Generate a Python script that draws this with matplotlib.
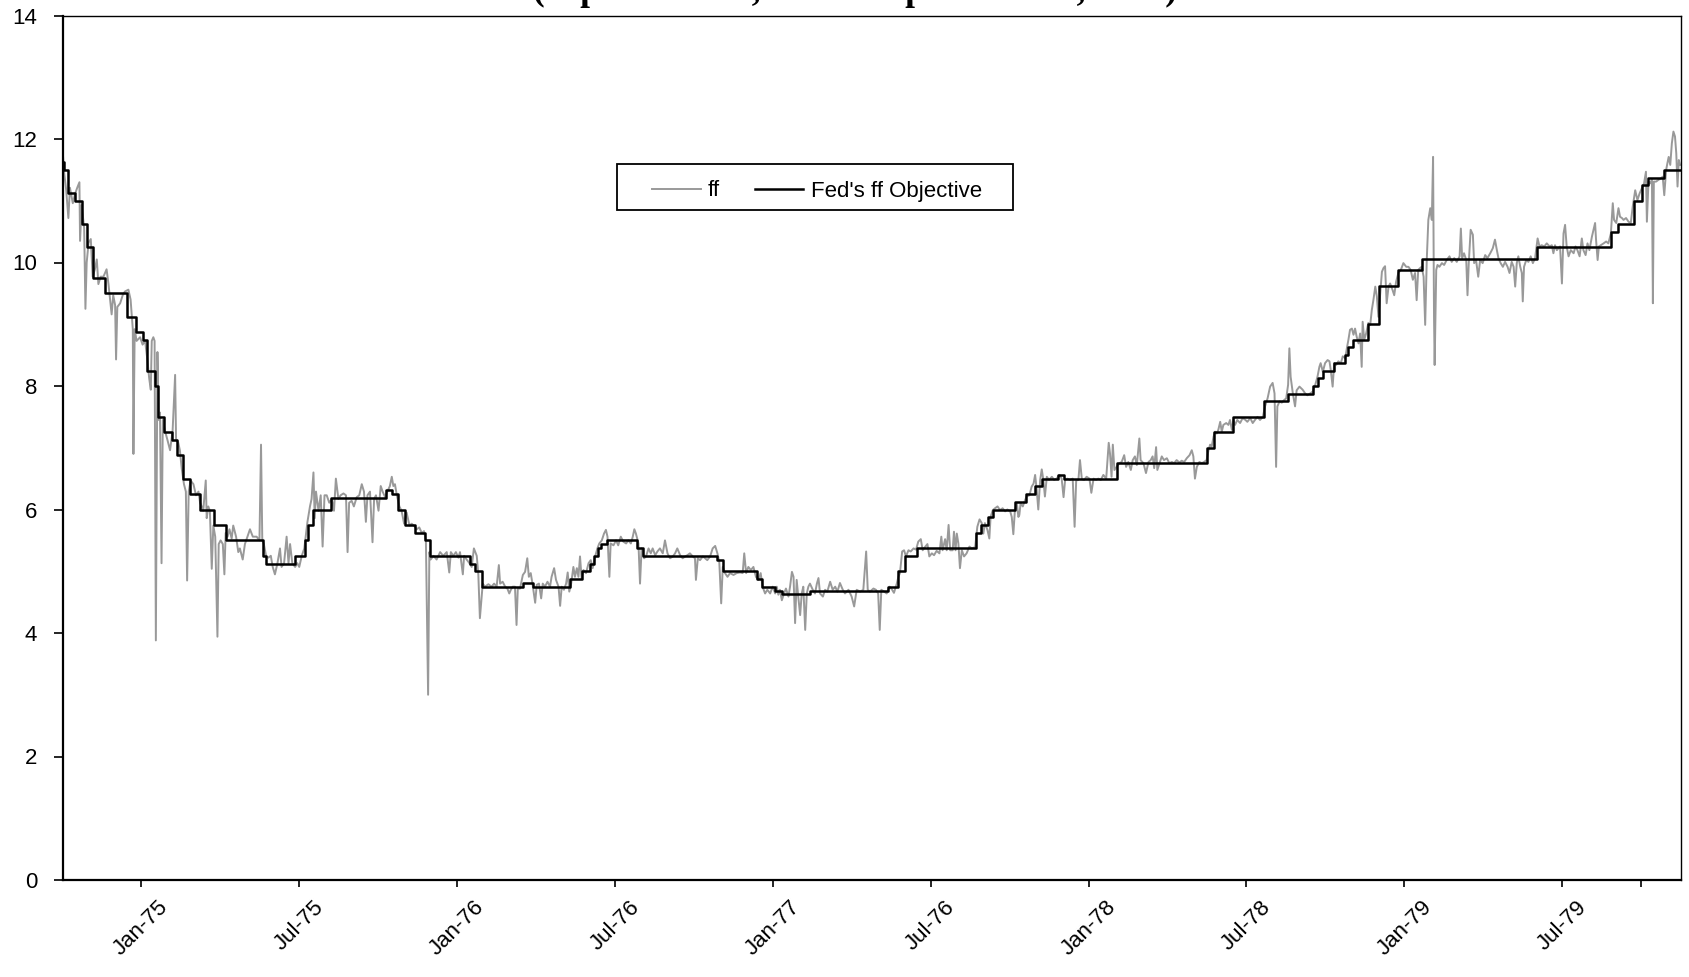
import numpy as np
import matplotlib
matplotlib.use("Agg")
import matplotlib.pyplot as plt
from matplotlib import transforms
from matplotlib.patches import Rectangle

# daily federal funds rate as (decimal year, percent)
ff_1974 = [
    (1974.753, 11.73), (1974.756, 11.48), (1974.763, 11.18), (1974.770, 10.72), (1974.775, 11.21),
    (1974.784, 10.96), (1974.791, 11.11), (1974.798, 11.21), (1974.805, 11.30), (1974.807, 10.35),
    (1974.812, 10.93), (1974.820, 10.56), (1974.824, 9.25), (1974.828, 10.00), (1974.834, 10.32),
    (1974.841, 10.38), (1974.847, 9.77), (1974.854, 9.89), (1974.860, 10.05), (1974.865, 9.65),
    (1974.872, 9.77), (1974.881, 9.77), (1974.891, 9.89), (1974.897, 9.65), (1974.902, 9.40),
    (1974.907, 9.16), (1974.912, 9.47), (1974.918, 9.31), (1974.921, 8.43), (1974.925, 9.28),
    (1974.934, 9.34), (1974.942, 9.47), (1974.949, 9.53), (1974.960, 9.56), (1974.967, 9.40),
    (1974.974, 8.92), (1974.976, 6.90), (1974.980, 8.92), (1974.986, 8.73), (1974.997, 8.79),
]
ff_1975 = [
    (1975.005, 8.67), (1975.013, 8.73), (1975.020, 8.43), (1975.026, 8.12), (1975.031, 7.94),
    (1975.034, 8.73), (1975.039, 8.79), (1975.043, 8.73), (1975.047, 3.88), (1975.052, 8.55),
    (1975.056, 7.45), (1975.060, 7.57), (1975.065, 5.13), (1975.069, 7.45), (1975.076, 7.27),
    (1975.083, 7.14), (1975.092, 6.96), (1975.100, 7.27), (1975.108, 8.18), (1975.111, 7.14),
    (1975.118, 7.08), (1975.123, 6.96), (1975.129, 6.66), (1975.136, 6.41), (1975.142, 6.29),
    (1975.146, 4.85), (1975.151, 6.29), (1975.157, 6.47), (1975.166, 6.41), (1975.174, 6.23),
    (1975.182, 6.29), (1975.187, 6.11), (1975.192, 6.05), (1975.197, 5.98), (1975.205, 6.47),
    (1975.208, 5.86), (1975.213, 6.05), (1975.218, 5.98), (1975.224, 5.04), (1975.229, 5.74),
    (1975.235, 5.56), (1975.242, 3.94), (1975.246, 5.44), (1975.252, 5.50), (1975.259, 5.44),
    (1975.264, 4.95), (1975.268, 5.62), (1975.274, 5.56), (1975.280, 5.68), (1975.287, 5.53),
    (1975.292, 5.74), (1975.301, 5.56), (1975.308, 5.31), (1975.313, 5.37), (1975.322, 5.19),
    (1975.329, 5.44), (1975.337, 5.56), (1975.345, 5.68), (1975.354, 5.56), (1975.366, 5.56),
    (1975.375, 5.50), (1975.380, 7.05), (1975.384, 5.50), (1975.389, 5.44), (1975.396, 5.25),
    (1975.403, 5.22), (1975.411, 5.25), (1975.417, 5.07), (1975.424, 4.95), (1975.432, 5.13),
    (1975.440, 5.37), (1975.445, 5.07), (1975.453, 5.13), (1975.461, 5.56), (1975.467, 5.13),
    (1975.472, 5.44), (1975.479, 5.13), (1975.488, 5.07), (1975.495, 5.13), (1975.501, 5.07),
    (1975.509, 5.25), (1975.517, 5.37), (1975.527, 5.80), (1975.535, 6.05), (1975.540, 6.17),
    (1975.546, 6.60), (1975.550, 5.86), (1975.554, 6.29), (1975.562, 5.98), (1975.569, 6.23),
    (1975.575, 5.40), (1975.581, 6.23), (1975.588, 6.23), (1975.596, 6.11), (1975.604, 6.17),
    (1975.611, 5.98), (1975.617, 6.50), (1975.625, 6.17), (1975.632, 6.23), (1975.641, 6.26),
    (1975.649, 6.23), (1975.654, 5.31), (1975.659, 6.11), (1975.667, 6.14), (1975.674, 6.05),
    (1975.683, 6.20), (1975.691, 6.23), (1975.699, 6.41), (1975.706, 6.29), (1975.712, 5.80),
    (1975.717, 6.23), (1975.725, 6.29), (1975.733, 5.47), (1975.738, 6.17), (1975.744, 6.23),
    (1975.752, 5.98), (1975.759, 6.38), (1975.765, 6.29), (1975.773, 6.20), (1975.780, 6.29),
    (1975.788, 6.38), (1975.794, 6.53), (1975.799, 6.38), (1975.804, 6.41), (1975.810, 6.23),
    (1975.818, 6.05), (1975.825, 5.98), (1975.833, 5.77), (1975.841, 5.95), (1975.850, 5.74),
    (1975.857, 5.77), (1975.864, 5.74), (1975.873, 5.68), (1975.881, 5.71), (1975.889, 5.62),
    (1975.896, 5.65), (1975.902, 5.50), (1975.909, 3.00), (1975.913, 5.31), (1975.917, 5.19),
    (1975.926, 5.25), (1975.936, 5.19), (1975.947, 5.31), (1975.957, 5.25), (1975.968, 5.31),
    (1975.976, 4.98), (1975.981, 5.31), (1975.989, 5.25), (1975.997, 5.31),
]
ff_1976 = [
    (1976.005, 5.22), (1976.010, 5.31), (1976.019, 4.95), (1976.023, 5.25), (1976.031, 5.19),
    (1976.040, 5.13), (1976.047, 5.07), (1976.054, 5.37), (1976.063, 5.25), (1976.068, 4.95),
    (1976.073, 4.24), (1976.082, 4.80), (1976.089, 4.75), (1976.100, 4.79), (1976.110, 4.75),
    (1976.118, 4.80), (1976.126, 4.75), (1976.133, 5.10), (1976.137, 4.80), (1976.145, 4.83),
    (1976.153, 4.75), (1976.160, 4.72), (1976.166, 4.64), (1976.171, 4.70), (1976.177, 4.75),
    (1976.184, 4.75), (1976.189, 4.13), (1976.193, 4.72), (1976.200, 4.72), (1976.209, 4.94),
    (1976.216, 4.99), (1976.223, 5.21), (1976.228, 4.91), (1976.234, 4.97), (1976.240, 4.78),
    (1976.248, 4.49), (1976.253, 4.78), (1976.260, 4.80), (1976.267, 4.56), (1976.272, 4.80),
    (1976.279, 4.75), (1976.287, 4.83), (1976.295, 4.75), (1976.300, 4.91), (1976.308, 5.05),
    (1976.314, 4.86), (1976.322, 4.75), (1976.327, 4.44), (1976.332, 4.75), (1976.339, 4.70),
    (1976.346, 4.80), (1976.351, 4.98), (1976.356, 4.67), (1976.362, 4.80), (1976.369, 5.07),
    (1976.374, 4.91), (1976.380, 5.05), (1976.385, 4.91), (1976.390, 5.24), (1976.395, 4.89),
    (1976.401, 5.02), (1976.409, 4.97), (1976.417, 5.13), (1976.424, 5.18), (1976.430, 5.05),
    (1976.438, 5.24), (1976.445, 5.37), (1976.451, 5.45), (1976.459, 5.50), (1976.466, 5.61),
    (1976.472, 5.67), (1976.477, 5.56), (1976.483, 4.91), (1976.487, 5.45), (1976.496, 5.42),
    (1976.504, 5.50), (1976.511, 5.42), (1976.519, 5.56), (1976.527, 5.48), (1976.536, 5.45),
    (1976.543, 5.50), (1976.551, 5.45), (1976.557, 5.56), (1976.562, 5.68), (1976.567, 5.61),
    (1976.575, 5.45), (1976.580, 4.80), (1976.585, 5.37), (1976.593, 5.21), (1976.599, 5.24),
    (1976.607, 5.37), (1976.614, 5.29), (1976.620, 5.37), (1976.628, 5.26), (1976.635, 5.32),
    (1976.643, 5.37), (1976.652, 5.29), (1976.659, 5.50), (1976.667, 5.29), (1976.675, 5.21),
    (1976.684, 5.24), (1976.691, 5.29), (1976.698, 5.37), (1976.707, 5.26), (1976.715, 5.21),
    (1976.723, 5.24), (1976.730, 5.26), (1976.738, 5.29), (1976.747, 5.24), (1976.754, 5.21),
    (1976.757, 4.86), (1976.763, 5.21), (1976.770, 5.18), (1976.779, 5.24), (1976.786, 5.21),
    (1976.793, 5.18), (1976.802, 5.24), (1976.810, 5.37), (1976.818, 5.41), (1976.825, 5.29),
    (1976.831, 5.15), (1976.837, 4.48), (1976.842, 5.07), (1976.849, 4.97), (1976.857, 4.91),
    (1976.865, 4.97), (1976.876, 4.94), (1976.886, 4.97), (1976.897, 4.98), (1976.905, 4.97),
    (1976.910, 5.29), (1976.916, 4.97), (1976.923, 5.07), (1976.931, 5.02), (1976.939, 5.07),
    (1976.947, 4.91), (1976.955, 4.86), (1976.962, 4.97), (1976.968, 4.75), (1976.976, 4.64),
    (1976.983, 4.70), (1976.992, 4.64),
]
ff_1977 = [
    (1977.000, 4.75), (1977.008, 4.64), (1977.013, 4.75), (1977.018, 4.62), (1977.023, 4.70),
    (1977.029, 4.53), (1977.036, 4.64), (1977.042, 4.72), (1977.050, 4.59), (1977.055, 4.75),
    (1977.061, 4.99), (1977.066, 4.91), (1977.071, 4.16), (1977.076, 4.86), (1977.081, 4.59),
    (1977.087, 4.29), (1977.092, 4.64), (1977.097, 4.75), (1977.103, 4.05), (1977.108, 4.64),
    (1977.113, 4.75), (1977.118, 4.80), (1977.127, 4.70), (1977.134, 4.64), (1977.140, 4.80),
    (1977.145, 4.89), (1977.150, 4.64), (1977.159, 4.59), (1977.166, 4.70), (1977.173, 4.67),
    (1977.182, 4.83), (1977.190, 4.70), (1977.198, 4.75), (1977.205, 4.67), (1977.213, 4.81),
    (1977.222, 4.70), (1977.229, 4.64), (1977.240, 4.70), (1977.250, 4.59), (1977.258, 4.43),
    (1977.266, 4.70), (1977.277, 4.67), (1977.287, 4.70), (1977.296, 5.32), (1977.301, 4.70),
    (1977.308, 4.67), (1977.319, 4.72), (1977.327, 4.70), (1977.334, 4.64), (1977.339, 4.05),
    (1977.344, 4.70), (1977.353, 4.67), (1977.361, 4.64), (1977.370, 4.75), (1977.377, 4.71),
    (1977.384, 4.65), (1977.393, 4.80), (1977.398, 4.91), (1977.403, 4.97), (1977.410, 5.32),
    (1977.416, 5.34), (1977.422, 5.24), (1977.430, 5.34), (1977.437, 5.32), (1977.446, 5.37),
    (1977.454, 5.35), (1977.461, 5.48), (1977.469, 5.52), (1977.475, 5.34), (1977.482, 5.39),
    (1977.490, 5.44), (1977.496, 5.24), (1977.504, 5.29), (1977.511, 5.26), (1977.519, 5.33),
    (1977.528, 5.29), (1977.534, 5.56), (1977.538, 5.34), (1977.546, 5.52), (1977.551, 5.34),
    (1977.557, 5.75), (1977.562, 5.34), (1977.570, 5.34), (1977.574, 5.64), (1977.579, 5.34),
    (1977.583, 5.61), (1977.588, 5.45), (1977.593, 5.05), (1977.599, 5.34), (1977.606, 5.24),
    (1977.614, 5.29), (1977.623, 5.40), (1977.630, 5.37), (1977.641, 5.39), (1977.648, 5.72),
    (1977.655, 5.84), (1977.662, 5.78), (1977.667, 5.61), (1977.672, 5.78), (1977.680, 5.67),
    (1977.686, 5.53), (1977.690, 5.88), (1977.697, 5.99), (1977.704, 6.02), (1977.712, 6.05),
    (1977.720, 5.99), (1977.728, 6.02), (1977.736, 5.97), (1977.743, 6.00), (1977.752, 5.97),
    (1977.757, 5.88), (1977.762, 5.60), (1977.767, 5.99), (1977.773, 6.10), (1977.778, 5.88),
    (1977.781, 5.91), (1977.785, 6.10), (1977.792, 6.05), (1977.799, 6.15), (1977.804, 6.21),
    (1977.813, 6.23), (1977.820, 6.37), (1977.826, 6.42), (1977.831, 6.56), (1977.836, 6.32),
    (1977.841, 6.00), (1977.847, 6.48), (1977.852, 6.65), (1977.857, 6.48), (1977.862, 6.21),
    (1977.868, 6.53), (1977.875, 6.48), (1977.884, 6.53), (1977.891, 6.48), (1977.899, 6.50),
    (1977.908, 6.56), (1977.915, 6.50), (1977.921, 6.20), (1977.926, 6.48), (1977.933, 6.50),
    (1977.942, 6.48), (1977.950, 6.50), (1977.956, 5.72), (1977.961, 6.47), (1977.968, 6.48),
    (1977.973, 6.80), (1977.979, 6.49), (1977.986, 6.48), (1977.994, 6.53),
]
ff_1978 = [
    (1978.003, 6.50), (1978.009, 6.27), (1978.016, 6.50), (1978.024, 6.48), (1978.031, 6.50),
    (1978.039, 6.48), (1978.047, 6.56), (1978.056, 6.50), (1978.064, 7.08), (1978.068, 6.91),
    (1978.073, 6.53), (1978.077, 7.05), (1978.082, 6.64), (1978.089, 6.69), (1978.098, 6.75),
    (1978.105, 6.77), (1978.113, 6.88), (1978.119, 6.69), (1978.126, 6.77), (1978.134, 6.64),
    (1978.140, 6.80), (1978.147, 6.86), (1978.153, 6.72), (1978.161, 7.15), (1978.165, 6.80),
    (1978.174, 6.75), (1978.182, 6.59), (1978.190, 6.77), (1978.197, 6.80), (1978.203, 6.86),
    (1978.208, 6.67), (1978.214, 7.01), (1978.218, 6.64), (1978.225, 6.75), (1978.232, 6.86),
    (1978.239, 6.80), (1978.248, 6.83), (1978.256, 6.75), (1978.264, 6.77), (1978.271, 6.75),
    (1978.279, 6.80), (1978.288, 6.76), (1978.295, 6.79), (1978.303, 6.77), (1978.311, 6.83),
    (1978.320, 6.88), (1978.327, 6.96), (1978.332, 6.86), (1978.337, 6.50), (1978.343, 6.69),
    (1978.351, 6.77), (1978.359, 6.75), (1978.366, 6.77), (1978.374, 6.80), (1978.380, 6.96),
    (1978.385, 7.05), (1978.390, 7.02), (1978.396, 7.18), (1978.401, 7.26), (1978.406, 7.23),
    (1978.411, 7.29), (1978.417, 7.42), (1978.422, 7.26), (1978.427, 7.37), (1978.436, 7.40),
    (1978.443, 7.37), (1978.448, 7.45), (1978.454, 7.29), (1978.459, 7.45), (1978.464, 7.37),
    (1978.471, 7.45), (1978.480, 7.40), (1978.488, 7.48), (1978.497, 7.45), (1978.503, 7.42),
    (1978.512, 7.48), (1978.520, 7.40), (1978.527, 7.45), (1978.535, 7.50), (1978.543, 7.45),
    (1978.552, 7.50), (1978.559, 7.67), (1978.567, 7.80), (1978.575, 7.99), (1978.583, 8.05),
    (1978.589, 7.88), (1978.594, 6.69), (1978.598, 7.67), (1978.605, 7.75), (1978.612, 7.73),
    (1978.619, 7.77), (1978.626, 7.80), (1978.632, 8.02), (1978.636, 8.61), (1978.640, 8.15),
    (1978.647, 7.88), (1978.654, 7.67), (1978.659, 7.93), (1978.668, 7.99), (1978.678, 7.94),
    (1978.686, 7.88), (1978.693, 7.85), (1978.702, 7.88), (1978.710, 7.91), (1978.718, 8.02),
    (1978.725, 8.15), (1978.731, 8.31), (1978.735, 8.37), (1978.742, 8.23), (1978.749, 8.37),
    (1978.757, 8.42), (1978.763, 8.40), (1978.767, 8.26), (1978.773, 7.99), (1978.778, 8.37),
    (1978.784, 8.34), (1978.791, 8.40), (1978.799, 8.37), (1978.805, 8.48), (1978.813, 8.45),
    (1978.818, 8.61), (1978.823, 8.75), (1978.828, 8.91), (1978.834, 8.93), (1978.839, 8.83),
    (1978.844, 8.93), (1978.849, 8.80), (1978.855, 8.69), (1978.860, 8.85), (1978.865, 8.31),
    (1978.868, 9.04), (1978.873, 8.75), (1978.879, 8.85), (1978.886, 9.02), (1978.892, 8.99),
    (1978.897, 9.23), (1978.902, 9.39), (1978.908, 9.61), (1978.913, 9.45), (1978.918, 9.12),
    (1978.923, 9.45), (1978.929, 9.85), (1978.934, 9.91), (1978.939, 9.94), (1978.944, 9.34),
    (1978.950, 9.61), (1978.955, 9.66), (1978.963, 9.55), (1978.968, 9.47), (1978.974, 9.69),
    (1978.981, 9.83), (1978.989, 9.88), (1978.997, 9.99),
]
ff_1979 = [
    (1979.006, 9.93), (1979.013, 9.93), (1979.020, 9.88), (1979.027, 9.72), (1979.034, 9.83),
    (1979.039, 9.39), (1979.044, 9.88), (1979.050, 9.91), (1979.055, 9.93), (1979.061, 9.77),
    (1979.066, 8.99), (1979.071, 10.04), (1979.076, 10.69), (1979.082, 10.88), (1979.087, 10.69),
    (1979.091, 11.71), (1979.094, 9.12), (1979.096, 8.34), (1979.101, 9.88), (1979.105, 9.96),
    (1979.111, 9.93), (1979.119, 9.99), (1979.126, 9.96), (1979.134, 10.04), (1979.143, 10.10),
    (1979.150, 10.01), (1979.158, 10.07), (1979.166, 10.01), (1979.175, 10.10), (1979.179, 10.55),
    (1979.183, 10.07), (1979.189, 10.15), (1979.196, 10.04), (1979.200, 9.47), (1979.204, 9.99),
    (1979.210, 10.53), (1979.217, 10.45), (1979.221, 9.99), (1979.227, 10.04), (1979.234, 9.77),
    (1979.240, 10.04), (1979.248, 9.99), (1979.256, 10.12), (1979.263, 10.07), (1979.272, 10.15),
    (1979.280, 10.23), (1979.287, 10.37), (1979.293, 10.20), (1979.298, 10.07), (1979.305, 9.99),
    (1979.312, 9.93), (1979.319, 10.01), (1979.327, 9.93), (1979.333, 9.83), (1979.340, 10.01),
    (1979.346, 9.93), (1979.351, 9.61), (1979.356, 9.99), (1979.361, 10.10), (1979.367, 9.93),
    (1979.372, 9.83), (1979.375, 9.37), (1979.379, 9.93), (1979.386, 10.04), (1979.393, 10.01),
    (1979.400, 10.10), (1979.407, 9.99), (1979.414, 10.07), (1979.422, 10.39), (1979.428, 10.26),
    (1979.435, 10.28), (1979.443, 10.26), (1979.451, 10.31), (1979.460, 10.26), (1979.467, 10.28),
    (1979.472, 10.15), (1979.477, 10.28), (1979.483, 10.20), (1979.488, 10.23), (1979.493, 10.26),
    (1979.499, 9.66), (1979.504, 10.47), (1979.509, 10.61), (1979.514, 10.26), (1979.520, 10.10),
    (1979.527, 10.20), (1979.536, 10.15), (1979.542, 10.26), (1979.548, 10.20), (1979.555, 10.10),
    (1979.562, 10.39), (1979.567, 10.20), (1979.574, 10.12), (1979.580, 10.31), (1979.586, 10.20),
    (1979.594, 10.42), (1979.599, 10.53), (1979.604, 10.64), (1979.607, 10.37), (1979.612, 10.04),
    (1979.616, 10.26), (1979.622, 10.28), (1979.631, 10.31), (1979.639, 10.34), (1979.646, 10.31),
    (1979.654, 10.47), (1979.660, 10.96), (1979.664, 10.69), (1979.671, 10.64), (1979.678, 10.88),
    (1979.683, 10.74), (1979.689, 10.72), (1979.694, 10.69), (1979.702, 10.72), (1979.710, 10.66),
    (1979.717, 10.64), (1979.723, 10.90), (1979.731, 11.17), (1979.738, 11.01), (1979.745, 11.12),
    (1979.752, 11.20), (1979.759, 11.28), (1979.765, 11.47), (1979.768, 10.66), (1979.773, 11.31),
    (1979.778, 11.28), (1979.784, 11.34), (1979.787, 9.34), (1979.790, 11.31), (1979.797, 11.31),
    (1979.805, 11.34), (1979.812, 11.36), (1979.818, 11.39), (1979.823, 11.09), (1979.829, 11.50),
    (1979.833, 11.61), (1979.837, 11.71), (1979.842, 11.58), (1979.847, 11.93), (1979.852, 12.12),
    (1979.857, 12.04), (1979.861, 11.77), (1979.865, 11.23), (1979.869, 11.66), (1979.873, 11.58),
]

# Fed's ff objective: (decimal year of change, new level)
objective = [
    (1974.753, 11.625), (1974.757, 11.5), (1974.770, 11.125), (1974.791, 11.0), (1974.812, 10.625),
    (1974.830, 10.25), (1974.849, 9.75), (1974.886, 9.5), (1974.955, 9.125), (1974.984, 8.875),
    (1975.005, 8.75), (1975.020, 8.25), (1975.044, 8.0), (1975.055, 7.5), (1975.073, 7.25),
    (1975.097, 7.125), (1975.115, 6.875), (1975.132, 6.5), (1975.155, 6.25), (1975.187, 6.0),
    (1975.231, 5.75), (1975.268, 5.5), (1975.387, 5.25), (1975.396, 5.125), (1975.488, 5.25),
    (1975.520, 5.5), (1975.530, 5.75), (1975.546, 6.0), (1975.601, 6.1875), (1975.776, 6.3125),
    (1975.794, 6.25), (1975.815, 6.0), (1975.836, 5.75), (1975.868, 5.625), (1975.899, 5.5),
    (1975.915, 5.25), (1976.042, 5.125), (1976.058, 5.0), (1976.079, 4.75), (1976.211, 4.8125),
    (1976.242, 4.75), (1976.358, 4.875), (1976.395, 5.0), (1976.422, 5.125), (1976.434, 5.25),
    (1976.448, 5.375), (1976.456, 5.4375), (1976.475, 5.5), (1976.570, 5.375), (1976.589, 5.25),
    (1976.823, 5.1875), (1976.844, 5.0), (1976.950, 4.875), (1976.965, 4.75), (1977.008, 4.6875),
    (1977.029, 4.625), (1977.118, 4.6875), (1977.366, 4.75), (1977.398, 5.0), (1977.419, 5.25),
    (1977.456, 5.375), (1977.644, 5.625), (1977.659, 5.75), (1977.683, 5.875), (1977.697, 6.0),
    (1977.767, 6.125), (1977.802, 6.25), (1977.831, 6.375), (1977.852, 6.5), (1977.905, 6.5625),
    (1977.921, 6.5), (1978.089, 6.75), (1978.374, 7.0), (1978.396, 7.25), (1978.457, 7.5),
    (1978.556, 7.75), (1978.633, 7.875), (1978.712, 8.0), (1978.728, 8.125), (1978.744, 8.25),
    (1978.776, 8.375), (1978.813, 8.5), (1978.823, 8.625), (1978.837, 8.75), (1978.886, 9.0),
    (1978.921, 9.625), (1978.981, 9.875), (1979.055, 10.0625), (1979.419, 10.25), (1979.654, 10.5),
    (1979.678, 10.625), (1979.726, 11.0), (1979.752, 11.25), (1979.773, 11.375), (1979.823, 11.5),
    (1979.876, 11.5),
]

tick_pos = [1975.0, 1975.5, 1976.0, 1976.5, 1977.0, 1977.5, 1978.0, 1978.5, 1979.0, 1979.5, 1979.75]
tick_labels = ['Jan-75', 'Jul-75', 'Jan-76', 'Jul-76', 'Jan-77', 'Jul-76',
               'Jan-78', 'Jul-78', 'Jan-79', 'Jul-79', '']

ff = np.array(ff_1974 + ff_1975 + ff_1976 + ff_1977 + ff_1978 + ff_1979)
obj = np.array(objective)

plt.rcParams['font.family'] = ['Liberation Sans', 'DejaVu Sans']

W, H = 1689, 977
fig = plt.figure(figsize=(W / 100, H / 100), dpi=100)
ax = fig.add_axes([63 / W, 1 - 880 / H, (1681 - 63) / W, (880 - 15.5) / H])

ax.plot(ff[:, 0], ff[:, 1], color='#999999', lw=1.4, label='ff')
ax.plot(obj[:, 0], obj[:, 1], color='black', lw=1.8, drawstyle='steps-post',
        label="Fed's ff Objective")

ax.set_xlim(1974.753, 1979.876)
ax.set_ylim(0, 14)
ax.set_yticks(np.arange(0, 15, 2))
ax.set_yticklabels([str(v) for v in range(0, 15, 2)], fontsize=16)
ax.set_xticks(tick_pos)
ax.set_xticklabels(tick_labels, rotation=45, ha='center', fontsize=16)
shift = transforms.ScaledTranslation(-18 / 100, 0, fig.dpi_scale_trans)
for lbl in ax.get_xticklabels():
    lbl.set_transform(lbl.get_transform() + shift)

ax.tick_params(axis='y', direction='out', length=6.5, width=1.2, pad=12)
ax.tick_params(axis='x', direction='out', length=5, width=1.2, pad=7)
for side in ['left', 'bottom']:
    ax.spines[side].set_linewidth(1.6)
for side in ['top', 'right']:
    ax.spines[side].set_linewidth(1.0)

# legend entries without a frame, and the box drawn where the original has it
leg = ax.legend(loc='center left', bbox_to_anchor=(652 / W, 1 - 191 / H),
                bbox_transform=fig.transFigure, ncol=2, fontsize=16, frameon=False,
                borderpad=0, borderaxespad=0, handlelength=2.2, handletextpad=0.32,
                columnspacing=1.55)
leg.set_zorder(6)
box = Rectangle((617 / W, 1 - 210 / H), (1013 - 617) / W, (210 - 164) / H,
                transform=fig.transFigure, facecolor='white', edgecolor='black',
                lw=1.3, zorder=5, clip_on=False)
ax.add_patch(box)

# second title line, only the descenders survive at the top edge
fig.text(855 / W, 1 - 0.5 / H, "(September 26, 1974 - September 27, 1979)",
         ha='center', va='baseline', fontsize=25.5, fontweight='bold',
         family='Liberation Serif')

fig.savefig('out.png', dpi=100)
